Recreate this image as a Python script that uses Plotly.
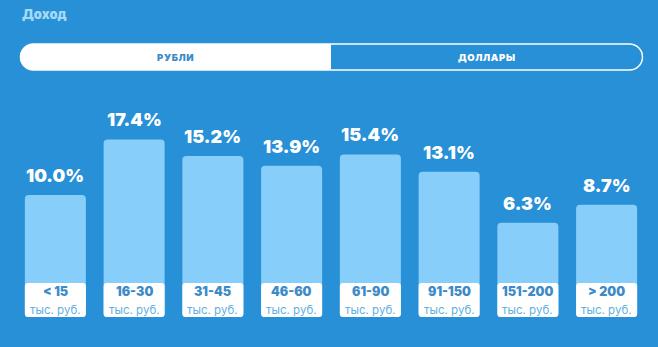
import plotly.graph_objects as go

categories = ["< 15", "16-30", "31-45", "46-60", "61-90", "91-150", "151-200", "> 200"]
unit_label = "тыс. руб."
values = [10.0, 17.4, 15.2, 13.9, 15.4, 13.1, 6.3, 8.7]
title_text = "Доход"
toggle_left = "РУБЛИ"
toggle_right = "ДОЛЛАРЫ"

W, H = 658, 347
ML, MR, MT, MB = 16, 12, 0, 0
PW, PH = W - ML - MR, H - MT - MB

BG = "#2790D6"
BAR = "#87CEFA"

Y_MIN, Y_MAX = -10.27, 36.0
BOX_TOP, BOX_BOT = -1.73, -6.27

def px2paper(x, y):
    return (x - ML) / PW, 1 - (y - MT) / PH

def rounded_path(x0, y0, x1, y1, r, corners=(True, True, True, True)):
    k = 0.5523 * r
    tl, tr, br, bl = corners
    def P(x, y):
        px, py = px2paper(x, y)
        return f"{px:.5f},{py:.5f}"
    s = "M " + (P(x0 + r, y0) if tl else P(x0, y0))
    if tr:
        s += " L " + P(x1 - r, y0)
        s += " C " + P(x1 - r + k, y0) + " " + P(x1, y0 + r - k) + " " + P(x1, y0 + r)
    else:
        s += " L " + P(x1, y0)
    if br:
        s += " L " + P(x1, y1 - r)
        s += " C " + P(x1, y1 - r + k) + " " + P(x1 - r + k, y1) + " " + P(x1 - r, y1)
    else:
        s += " L " + P(x1, y1)
    if bl:
        s += " L " + P(x0 + r, y1)
        s += " C " + P(x0 + r - k, y1) + " " + P(x0, y1 - r + k) + " " + P(x0, y1 - r)
    else:
        s += " L " + P(x0, y1)
    if tl:
        s += " L " + P(x0, y0 + r)
        s += " C " + P(x0, y0 + r - k) + " " + P(x0 + r - k, y0) + " " + P(x0 + r, y0)
    s += " Z"
    return s

fig = go.Figure()

fig.add_trace(go.Bar(
    x=categories,
    y=[v - BOX_BOT for v in values],
    base=[BOX_BOT] * len(values),
    marker=dict(color=BAR, line=dict(width=0), cornerradius=4),
    width=0.775,
    hoverinfo="skip",
))
fig.add_trace(go.Bar(
    x=categories,
    y=[BOX_BOT - BOX_TOP] * len(values),
    base=[BOX_TOP] * len(values),
    marker=dict(color="white", line=dict(width=0), cornerradius=3),
    width=0.775,
    hoverinfo="skip",
))

BOX_MID = (BOX_TOP + BOX_BOT) / 2

annotations = []
for c, v in zip(categories, values):
    annotations.append(dict(
        x=c, y=v, xref="x", yref="y", yanchor="bottom", yshift=7,
        text=f"{v:.1f}%", showarrow=False,
        font=dict(family="Inter", size=18, color="white", weight=900),
    ))
    lab = c.replace("<", "&lt;").replace(">", "&gt;")
    annotations.append(dict(
        x=c, y=BOX_MID, xref="x", yref="y", yanchor="bottom", yshift=-1.5,
        text=lab, showarrow=False,
        font=dict(family="Inter", size=12.5, color="#3C8BC8", weight=900),
    ))
    annotations.append(dict(
        x=c, y=BOX_MID, xref="x", yref="y", yanchor="top", yshift=-1.5,
        text=unit_label, showarrow=False,
        font=dict(family="Inter", size=11.5, color="#62B0E2"),
    ))

tx, ty = px2paper(20, 14.5)
annotations.append(dict(
    x=tx, y=ty, xref="paper", yref="paper", xanchor="left", yanchor="middle",
    text=title_text, showarrow=False,
    font=dict(family="Inter", size=13, color="#A3D9F8", weight=900),
))
for label, cx, col in [(toggle_left, 175.5, "#3C8BC8"), (toggle_right, 486.5, "white")]:
    ax, ay = px2paper(cx, 57.5)
    annotations.append(dict(
        x=ax, y=ay, xref="paper", yref="paper", xanchor="center", yanchor="middle",
        text='&#8202;'.join(label), showarrow=False,
        font=dict(family="Inter", size=9.5, color=col, weight=900),
    ))

shapes = [
    dict(type="path", xref="paper", yref="paper",
         path=rounded_path(20, 44, 331, 70, 13, (True, False, False, True)),
         fillcolor="white", line=dict(width=0), layer="above"),
    dict(type="path", xref="paper", yref="paper",
         path=rounded_path(20.5, 44, 642.5, 70, 13),
         fillcolor="rgba(0,0,0,0)", line=dict(color="white", width=1.5), layer="above"),
]

fig.update_layout(
    width=W, height=H,
    margin=dict(l=ML, r=MR, t=MT, b=MB),
    paper_bgcolor=BG, plot_bgcolor=BG,
    barmode="overlay",
    showlegend=False,
    xaxis=dict(range=[-0.5, len(categories) - 0.5], visible=False, fixedrange=True),
    yaxis=dict(range=[Y_MIN, Y_MAX], visible=False, fixedrange=True),
    annotations=annotations,
    shapes=shapes,
)

fig.write_html("out.html")
